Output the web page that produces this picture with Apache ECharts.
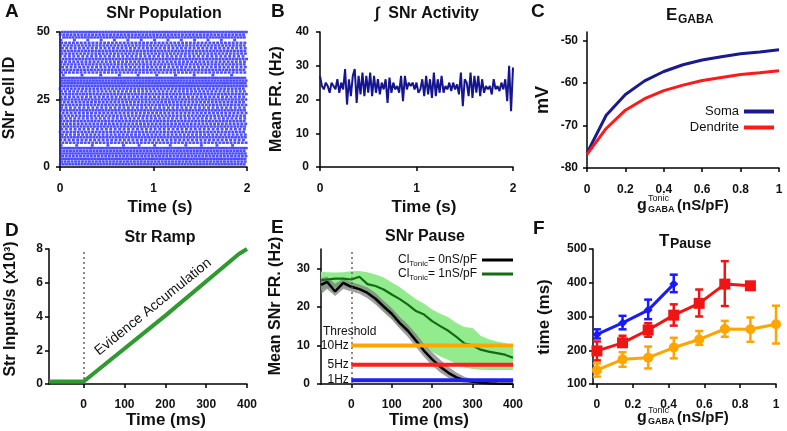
<!DOCTYPE html>
<html><head><meta charset="utf-8">
<script src="https://cdn.jsdelivr.net/npm/echarts@6/dist/echarts.min.js"></script>
<style>html,body{margin:0;padding:0;background:#fff}#c{width:787px;height:431px}</style>
</head><body><div id="c"></div>
<script>
// ---------------- DATA ----------------
// A: SNr raster, per-cell pacemaker rate (Hz) and first spike time (ms), cells 1..50
const cellRateHz = [30,27,33,26,31,28,34,6,25,22,29,23,26,21,28,24,27,22,25,23,29,21,26,24,28,22,27,23,25,31,33,30,34,5,24,27,22,26,23,28,21,25,27,22,26,24,7,30,26,32];
const cellFirstSpikeMs = [3,18,9,27,14,5,22,12,30,7,16,25,2,19,11,28,6,21,13,33,8,17,26,4,23,10,29,15,1,20,12,24,6,35,18,3,27,9,16,31,5,22,14,26,8,19,11,38,2,24];
// B: integrated SNr activity (Hz), 20 ms bins from 0 to 2 s
const activityBinS = 0.02;
const activityHz = [27,24,23,25,24,22,25,24,23,26,22,25,
 23,29,18.5,26,21,27,29,19,27,21.5,
 28,21,27,22,28,21,27,22,26,21.5,
 25,23,26,19,26.5,22,25,23,24,22,
 27,19.5,27,23,25,24,25,23,25,22,
 23,26,21,27,21.5,26,20.5,28,21,26,
 22,27,22,24,23,25,22.5,25,23,24.5,
 21.5,28,18,26,25,21,28,20.5,27,22,
 27,21,26,22,24,23,24,21.5,26,23,
 24,22.5,25,23,26,19.5,30,16.5,29.5];
// C: E_GABA vs tonic conductance
const gTonicC = [0,0.1,0.2,0.3,0.4,0.5,0.6,0.7,0.8,0.9,1.0];
const somaMv = [-76.5,-67.6,-62.7,-59.5,-57.3,-55.7,-54.6,-53.8,-53.1,-52.7,-52.2];
const dendriteMv = [-76.8,-70.7,-66.4,-63.7,-61.8,-60.5,-59.4,-58.7,-58.0,-57.6,-57.1];
// D: striatal ramp (x10^3 inputs/s)
const rampTimeMs = [-85,0,200,380,400];
const rampInputs = [0.15,0.15,4.05,7.7,8.0];
// E: SNr pause
const pauseTimeMs = [-75,-60,-40,-20,0,20,40,60,80,100,120,140,160,180,200,220,240,260,280,300,320,340,360,380,400];
const cl0Mean = [25.7,26.5,24.0,26.2,25.2,24.6,23.6,22.1,20.1,18.2,15.8,13.8,11.2,8.6,6.4,4.5,2.9,1.7,1.0,0.6,0.35,0.2,0.1,0.05,0.05];
const cl0Hi = [27.5,27.8,26.0,27.3,26.4,25.8,25.0,23.6,21.6,19.7,17.4,15.4,13.0,10.4,8.2,6.3,4.5,3.0,1.9,1.2,0.7,0.4,0.2,0.1,0.1];
const cl0Lo = [23.3,24.6,22.8,24.6,24.0,23.4,22.2,20.6,18.6,16.7,14.3,12.2,9.6,7.0,4.8,3.0,1.6,0.7,0.3,0.1,0,0,0,0,0];
const cl1Mean = [26.9,27.1,27.3,27.3,27.1,27.8,25.9,25.4,24.5,23.2,22.0,20.6,18.9,18.0,16.3,15.0,13.8,12.2,10.5,10.0,8.9,8.4,8.0,7.6,6.8];
const cl1Hi = [29.1,29.0,28.9,29.0,29.2,29.3,29.0,28.4,27.6,26.3,25.1,23.5,22.0,20.8,19.3,18.2,17.3,15.8,14.8,14.5,12.5,11.6,11.0,10.6,9.9];
const cl1Lo = [24.5,24.8,25.0,25.2,24.7,24.5,23.3,21.2,19.0,17.0,14.8,13.0,11.3,9.8,8.3,7.1,6.2,5.2,4.3,3.9,3.7,3.6,3.6,3.6,3.6];
const thresholdHz = [10,5,1];
const thresholdLabels = ['10Hz','5Hz','1Hz'];
const thresholdSpanMs = [0,400];
// F: pause time vs tonic conductance
const gTonicF = [0,0.143,0.286,0.429,0.571,0.714,0.857,1.0];
const pause1Hz = [247,281,319,396];
const pause1HzLo = [235,262,292,372];
const pause1HzHi = [262,302,350,424];
const pause5Hz = [198,222,260,304,339,396,391];
const pause5HzLo = [170,211,240,273,300,331,387];
const pause5HzHi = [226,243,280,336,380,464,397];
const pause10Hz = [141,173,178,208,232,263,262,277];
const pause10HzLo = [122,151,146,176,216,240,225,220];
const pause10HzHi = [161,194,211,237,257,287,297,332];

// ---------------- CHART ----------------
const FF = '"Liberation Sans", Arial, Helvetica, sans-serif';
const chart = echarts.init(document.getElementById('c'));

const rasterPts = [];
cellRateHz.forEach((r, i) => {
  const isi = 1 / r;
  for (let t = cellFirstSpikeMs[i] / 1000; t <= 2.0001; t += isi) rasterPts.push([t, i + 1]);
});
const zip = (xs, ys) => xs.map((x, i) => [x, ys[i]]);

const grids = [
  {left:60, top:32, width:187, height:135},
  {left:320, top:32, width:193, height:135},
  {left:587, top:32, width:192, height:136},
  {left:49, top:249, width:198, height:135},
  {left:321, top:249, width:192, height:135},
  {left:593, top:249, width:183, height:135}
];

const lineSt = {color:'#000', width:1.5};
function axis(gi, min, max, opt) {
  const a = {
    type:'value', gridIndex:gi, min, max, splitLine:{show:false},
    axisLine:{show:true, onZero:false, lineStyle:lineSt},
    axisTick:{show:true, length:4, lineStyle:lineSt},
    axisLabel:{color:'#111', fontSize:12, fontWeight:'bold', fontFamily:FF, margin: opt.margin}
  };
  if (opt.interval != null) a.interval = opt.interval;
  if (opt.ticks) { a.axisTick.customValues = opt.ticks; a.axisLabel.customValues = opt.ticks; }
  return a;
}
const xAxes = [
  axis(0, 0, 2, {interval:1, margin:16}),
  axis(1, 0, 2, {interval:1, margin:16}),
  axis(2, 0, 1, {interval:0.2, margin:16}),
  axis(3, -85, 400, {ticks:[0,100,200,300,400], margin:15}),
  axis(4, -75, 400, {ticks:[0,100,200,300,400], margin:15}),
  axis(5, -0.022, 1, {ticks:[0,0.2,0.4,0.6,0.8,1], margin:15})
];
const yAxes = [
  axis(0, 0, 50, {interval:25, margin:10}),
  axis(1, 0, 40, {interval:10, margin:11}),
  axis(2, -80, -48, {ticks:[-80,-70,-60,-50], margin:9}),
  axis(3, 0, 8, {interval:2, margin:6}),
  axis(4, 0, 35, {ticks:[0,10,20,30], margin:11}),
  axis(5, 100, 500, {interval:100, margin:6})
];

function band(gi, ts, lo, hi, color, z) {
  return {type:'custom', xAxisIndex:gi, yAxisIndex:gi, silent:true, z,
    data:[[ts[0], lo[0]]],
    renderItem(params, api) {
      const pts = [];
      ts.forEach((t, i) => pts.push(api.coord([t, hi[i]])));
      for (let i = ts.length - 1; i >= 0; i--) pts.push(api.coord([ts[i], lo[i]]));
      return {type:'polygon', shape:{points:pts}, style:{fill:color}};
    }};
}
function errBars(gi, xs, lo, hi, color) {
  return {type:'custom', xAxisIndex:gi, yAxisIndex:gi, silent:true, z:3,
    data: xs.map((x, i) => [x, lo[i], hi[i]]),
    renderItem(params, api) {
      const a = api.coord([api.value(0), api.value(1)]);
      const b = api.coord([api.value(0), api.value(2)]);
      const w = 4, st = {stroke:color, lineWidth:2.5};
      return {type:'group', children:[
        {type:'line', shape:{x1:a[0], y1:a[1], x2:b[0], y2:b[1]}, style:st},
        {type:'line', shape:{x1:a[0]-w, y1:a[1], x2:a[0]+w, y2:a[1]}, style:st},
        {type:'line', shape:{x1:b[0]-w, y1:b[1], x2:b[0]+w, y2:b[1]}, style:st}
      ]};
    }};
}
const dotted = {silent:true, symbol:['none','none'], label:{show:false},
  lineStyle:{type:[2,3], color:'#666', width:1.5}, data:[{xAxis:0}]};

const thrColors = ['#ffa500','#ff1f1f','#1f1fee'];
const thrSeries = thresholdHz.map((v, k) => ({
  type:'line', xAxisIndex:4, yAxisIndex:4, z:5, symbol:'circle', symbolSize:1, showSymbol:true, silent:true,
  lineStyle:{color:thrColors[k], width:4}, itemStyle:{color:thrColors[k]}, color:thrColors[k],
  data:[{value:[thresholdSpanMs[0], v], label:{show:true, formatter:thresholdLabels[k], position:'left', distance:2,
      color:'#111', fontSize:12, fontFamily:FF}}, [thresholdSpanMs[1], v]]
}));

const series = [
  {type:'scatter', xAxisIndex:0, yAxisIndex:0, data:rasterPts, symbol:'rect', symbolSize:[2.9,2.5],
   itemStyle:{color:'#1f1fff'}, silent:true, large:false},
  {type:'line', xAxisIndex:1, yAxisIndex:1, symbol:'none', data:activityHz.map((v, i) => [i * activityBinS, v]),
   lineStyle:{color:'#15158f', width:2}},
  {name:'Soma', type:'line', xAxisIndex:2, yAxisIndex:2, symbol:'none', data:zip(gTonicC, somaMv),
   color:'#1a1a8c', lineStyle:{color:'#1a1a8c', width:3}},
  {name:'Dendrite', type:'line', xAxisIndex:2, yAxisIndex:2, symbol:'none', data:zip(gTonicC, dendriteMv),
   color:'#ff1a1a', lineStyle:{color:'#ff1a1a', width:3}},
  {type:'line', xAxisIndex:3, yAxisIndex:3, symbol:'none', data:zip(rampTimeMs, rampInputs),
   lineStyle:{color:'#2f9a2f', width:4}, markLine:dotted},
  band(4, pauseTimeMs, cl1Lo, cl1Hi, '#92ec8e', 1),
  band(4, pauseTimeMs, cl0Lo, cl0Hi, 'rgba(120,120,120,0.7)', 2),
  {name:'Cl0', type:'line', xAxisIndex:4, yAxisIndex:4, symbol:'none', z:3, data:zip(pauseTimeMs, cl0Mean),
   color:'#000', lineStyle:{color:'#000', width:2.5}, markLine:dotted},
  {name:'Cl1', type:'line', xAxisIndex:4, yAxisIndex:4, symbol:'none', z:3, data:zip(pauseTimeMs, cl1Mean),
   color:'#136b13', lineStyle:{color:'#136b13', width:2.2}},
  ...thrSeries,
  {type:'line', xAxisIndex:5, yAxisIndex:5, data:zip(gTonicF, pause10Hz), symbol:'circle', symbolSize:10,
   color:'#ffa500', lineStyle:{color:'#ffa500', width:3}, itemStyle:{color:'#ffa500'}, z:4},
  errBars(5, gTonicF, pause10HzLo, pause10HzHi, '#ffa500'),
  {type:'line', xAxisIndex:5, yAxisIndex:5, data:zip(gTonicF.slice(0, 7), pause5Hz), symbol:'rect', symbolSize:11,
   color:'#f01414', lineStyle:{color:'#f01414', width:3}, itemStyle:{color:'#f01414'}, z:4},
  errBars(5, gTonicF.slice(0, 7), pause5HzLo, pause5HzHi, '#f01414'),
  {type:'line', xAxisIndex:5, yAxisIndex:5, data:zip(gTonicF.slice(0, 4), pause1Hz), symbol:'diamond', symbolSize:9,
   color:'#1a1aff', lineStyle:{color:'#1a1aff', width:3}, itemStyle:{color:'#1a1aff'}, z:4},
  errBars(5, gTonicF.slice(0, 4), pause1HzLo, pause1HzHi, '#1a1aff')
];

function txt(x, y, text, font, extra) {
  const st = Object.assign({text, font, fill:'#111', textAlign:'center', textVerticalAlign:'middle',
    align:'center', verticalAlign:'middle'}, (extra && extra.style) || {});
  return Object.assign({type:'text', x, y, silent:true, z:100, style:st}, (extra && extra.el) || {});
}
const L = {style:{textAlign:'left', align:'left'}};
const rot = a => ({el:{rotation:a}});
const V = Math.PI / 2;
function gName(x0, yc) {
  return [
    txt(x0, yc, 'g', 'bold 16px ' + FF, L),
    txt(x0 + 11, yc - 7, 'Tonic', '9px ' + FF, L),
    txt(x0 + 11, yc + 4, 'GABA', 'bold 9px ' + FF, L),
    txt(x0 + 40, yc, '(nS/pF)', 'bold 15px ' + FF, L)
  ];
}
const BF = 'bold 16px ' + FF, XF = 'bold 17px ' + FF, LF = 'bold 19px ' + FF;
const graphics = [
  txt(5, 12, 'A', LF, L), txt(271, 12, 'B', LF, L), txt(531, 12, 'C', LF, L),
  txt(5, 231, 'D', LF, L), txt(271, 228, 'E', LF, L), txt(533, 229, 'F', LF, L),
  txt(164, 14, 'SNr Population', BF),
  txt(427, 14, '\u222B  SNr Activity', BF),
  txt(666, 15, 'E', 'bold 17px ' + FF, L), txt(678, 20, 'GABA', 'bold 12px ' + FF, L),
  txt(160, 238, 'Str Ramp', BF),
  txt(425, 237, 'SNr Pause', BF),
  txt(659, 241, 'T', 'bold 17px ' + FF, L), txt(670, 244, 'Pause', 'bold 14px ' + FF, L),
  txt(160, 207, 'Time (s)', XF), txt(424, 207, 'Time (s)', XF),
  txt(166, 420, 'Time (ms)', XF), txt(429, 420, 'Time (ms)', XF),
  ...gName(637, 206), ...gName(637, 418),
  txt(10, 98, 'SNr Cell ID', BF, rot(V)),
  txt(277, 99, 'Mean FR. (Hz)', BF, rot(V)),
  txt(543, 100, 'mV', 'bold 18px ' + FF, rot(V)),
  txt(11, 309, 'Str Inputs/s (x10\u00B3)', BF, rot(V)),
  txt(276, 306, 'Mean SNr FR. (Hz)', BF, rot(V)),
  txt(544, 317, 'time (ms)', 'bold 17px ' + FF, rot(V)),
  txt(323, 332, 'Threshold', '12px ' + FF, L),
  txt(153, 307, 'Evidence Accumulation', '14px ' + FF, {el:{rotation:39 * Math.PI / 180}})
];

const legendRich = {
  m:{fontSize:12, fontFamily:FF, color:'#111', lineHeight:16},
  s:{fontSize:8, fontFamily:FF, color:'#111', lineHeight:6, verticalAlign:'bottom'}
};
chart.setOption({
  animation:false,
  backgroundColor:'#fff',
  grid:grids, xAxis:xAxes, yAxis:yAxes, series,
  legend:[
    {data:['Soma','Dendrite'], orient:'vertical', align:'right', right:8, top:100, icon:'rect',
     itemWidth:30, itemHeight:4, itemGap:3, textStyle:{fontSize:13, fontFamily:FF, color:'#111'}, selectedMode:false},
    {data:['Cl0','Cl1'], orient:'vertical', align:'right', right:269, top:249, icon:'rect',
     itemWidth:31, itemHeight:3, itemGap:0, selectedMode:false,
     formatter:n => n === 'Cl0' ? '{m|Cl}{s|Tonic}{m|= 0nS/pF}' : '{m|Cl}{s|Tonic}{m|= 1nS/pF}',
     textStyle:{rich:legendRich, fontSize:12, fontFamily:FF, color:'#111'}}
  ],
  graphic:graphics
});
</script></body></html>
